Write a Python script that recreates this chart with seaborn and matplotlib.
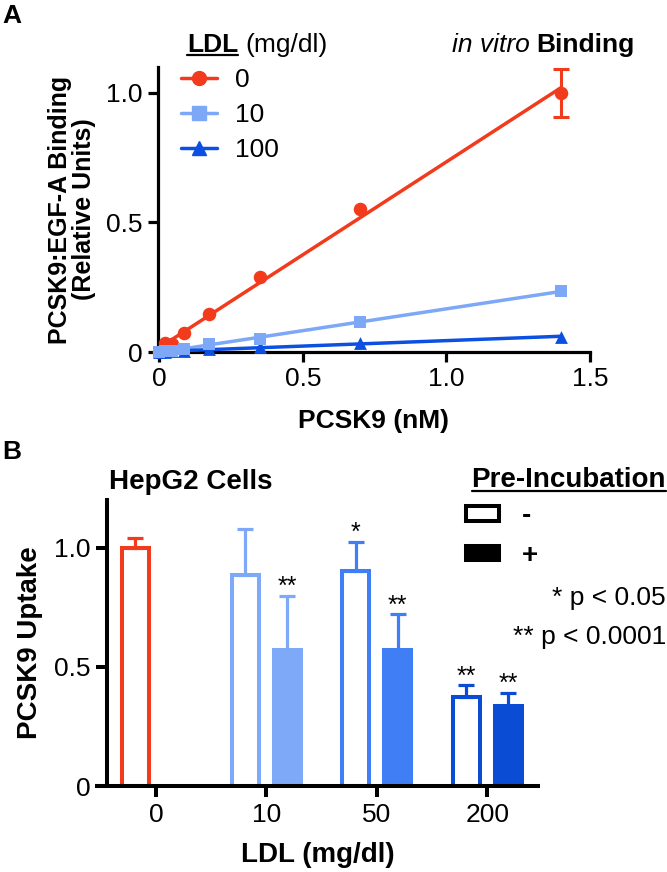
import numpy as np
import pandas as pd
import matplotlib
matplotlib.use("Agg")
import matplotlib.pyplot as plt
import seaborn as sns
from matplotlib.lines import Line2D
from matplotlib.patches import Patch

# ---- panel A: in vitro binding ----
pcsk9_nM = [0, 0.0219, 0.0438, 0.0875, 0.175, 0.35, 0.7, 1.4]
binding_ldl0 = [0.0, 0.035, 0.032, 0.072, 0.145, 0.29, 0.55, 1.0]
binding_ldl10 = [0.0, 0.003, 0.005, 0.012, 0.03, 0.052, 0.116, 0.235]
binding_ldl100 = [0.0, 0.001, 0.002, 0.005, 0.01, 0.02, 0.035, 0.058]
binding_ldl0_err_last = 0.093
ldl_levels_a = ["0", "10", "100"]

# ---- panel B: HepG2 uptake ----
ldl_b = ["0", "10", "50", "200"]
uptake_minus = [1.0, 0.885, 0.902, 0.375]
sd_minus = [0.042, 0.195, 0.123, 0.047]
uptake_plus = [np.nan, 0.569, 0.569, 0.336]
sd_plus = [np.nan, 0.228, 0.151, 0.056]
stars_minus = ["", "", "*", "**"]
stars_plus = ["", "**", "**", "**"]

RED = "#F23A1D"
LIGHT = "#7DA8F7"
DARK_A = "#0C50E2"
bar_colors = [RED, "#7EA9F8", "#3F7EF4", "#0B4CD4"]

sns.set_style("ticks")
plt.rcParams["font.family"] = ["Liberation Sans", "DejaVu Sans"]
plt.rcParams.update({"text.color": "black", "axes.labelcolor": "black",
                     "xtick.color": "black", "ytick.color": "black",
                     "axes.edgecolor": "black"})

W, H = 667, 872
fig = plt.figure(figsize=(W / 100, H / 100), dpi=100)


def fx(px):
    return px / W


def fy(py):
    return 1 - py / H


# ================= Panel A =================
axA = fig.add_axes([fx(158), fy(352), fx(590 - 158), 285 / H])
# (values, colour, marker, size, zorder) - light blue squares sit on top near 0
series = [(binding_ldl0, RED, "o", 95, 4), (binding_ldl10, LIGHT, "s", 85, 6),
          (binding_ldl100, DARK_A, "^", 85, 5)]
for yvals, col, mk, sz, z in series:
    sns.regplot(x=pcsk9_nM, y=yvals, ax=axA, ci=None, color=col, marker=mk,
                scatter_kws=dict(s=sz, linewidths=0, clip_on=False, zorder=z, alpha=1),
                line_kws=dict(lw=2.5, zorder=3))
axA.errorbar(pcsk9_nM[-1], binding_ldl0[-1], yerr=binding_ldl0_err_last,
             color=RED, lw=2.2, capsize=6, capthick=2.2, zorder=3)

axA.set_xlim(-0.004, 1.5)
axA.set_ylim(0, 1.1)
axA.set_xticks([0, 0.5, 1.0, 1.5])
axA.set_xticklabels(["0", "0.5", "1.0", "1.5"])
axA.set_yticks([0, 0.5, 1.0])
axA.set_yticklabels(["0", "0.5", "1.0"])
axA.tick_params(labelsize=19, length=7, width=2.3, pad=4)
sns.despine(ax=axA)
for s in ["left", "bottom"]:
    axA.spines[s].set_linewidth(2.3)
axA.set_xlabel("PCSK9 (nM)", fontsize=19, fontweight="bold", labelpad=13)
axA.set_ylabel("PCSK9:EGF-A Binding\n(Relative Units)", fontsize=18,
               fontweight="bold", labelpad=7, linespacing=1.05)

handlesA = [Line2D([], [], color=c, marker=m, markersize=10, lw=2.5)
            for _, c, m, _, _ in series]
fig.legend(handlesA, ldl_levels_a, loc="upper left",
           bbox_to_anchor=(fx(181), fy(68)), frameon=False, fontsize=19,
           handlelength=1.35, handletextpad=0.7, labelspacing=0.42,
           borderpad=0, borderaxespad=0)

fig.text(fx(2), fy(4), "A", fontsize=19, fontweight="bold", va="top", ha="left")
t_ldl = fig.text(fx(187), fy(45), "LDL", fontsize=19, fontweight="bold", va="center")
t_units = fig.text(fx(252), fy(45), "(mg/dl)", fontsize=19, va="center")
t_bind = fig.text(fx(634), fy(45), "Binding", fontsize=19, fontweight="bold",
                  va="center", ha="right")
t_vitro = fig.text(fx(431), fy(45), "in vitro", fontsize=19, style="italic",
                   va="center", ha="right")

# ================= Panel B =================
rows = []
for i, lv in enumerate(ldl_b):
    rows.append(dict(ldl=lv, pre="-", uptake=uptake_minus[i]))
    if not np.isnan(uptake_plus[i]):
        rows.append(dict(ldl=lv, pre="+", uptake=uptake_plus[i]))
dfB = pd.DataFrame(rows)

axB = fig.add_axes([fx(97), fy(786), fx(538 - 97), 286 / H])
sns.barplot(data=dfB, x="ldl", y="uptake", hue="pre", order=ldl_b,
            hue_order=["-", "+"], width=0.76, gap=0.355, errorbar=None,
            legend=False, ax=axB)

sd_lookup = {"-": sd_minus, "+": sd_plus}
star_lookup = {"-": stars_minus, "+": stars_plus}
mean_lookup = {"-": uptake_minus, "+": uptake_plus}
for p in axB.patches:
    cx = p.get_x() + p.get_width() / 2
    i = int(round(cx))
    pre = "-" if cx < i else "+"
    col = bar_colors[i]
    p.set_edgecolor(col)
    p.set_linewidth(2.9)
    p.set_facecolor("white" if pre == "-" else col)
    top = mean_lookup[pre][i]
    sd = sd_lookup[pre][i]
    axB.errorbar(cx, top, yerr=[[0], [sd]], color=col, lw=2.3, capsize=6,
                 capthick=2.3, zorder=3)
    if star_lookup[pre][i]:
        axB.text(cx, top + sd + 0.008, star_lookup[pre][i], ha="center",
                 va="baseline", fontsize=18)

axB.set_xlim(-0.535, 3.46)
axB.set_ylim(0, 1.2)
axB.set_yticks([0, 0.5, 1.0])
axB.set_yticklabels(["0", "0.5", "1.0"])
sns.despine(ax=axB)
axB.spines["left"].set_position(("data", -0.444))
for s in ["left", "bottom"]:
    axB.spines[s].set_linewidth(2.9)
axB.tick_params(labelsize=19, length=8, width=2.9, pad=4)
axB.set_xlabel("LDL (mg/dl)", fontsize=20, fontweight="bold", labelpad=11)
axB.set_ylabel("PCSK9 Uptake", fontsize=20, fontweight="bold", labelpad=8)

fig.text(fx(2), fy(440), "B", fontsize=19, fontweight="bold", va="top", ha="left")
fig.text(fx(109), fy(482), "HepG2 Cells", fontsize=20, fontweight="bold", va="center")
t_pre = fig.text(fx(666), fy(480), "Pre-Incubation", fontsize=20,
                 fontweight="bold", va="center", ha="right")

handlesB = [Patch(facecolor="white", edgecolor="black", lw=2.9),
            Patch(facecolor="black", edgecolor="black", lw=2.9)]
fig.legend(handlesB, ["-", "+"], loc="upper left",
           bbox_to_anchor=(fx(466), fy(503)), frameon=False,
           prop=dict(size=20, weight="bold"), handlelength=1.2,
           handleheight=0.45, handletextpad=0.8, labelspacing=0.5,
           borderpad=0, borderaxespad=0)

fig.text(fx(666), fy(598), "* p < 0.05", fontsize=19, va="center", ha="right")
fig.text(fx(666), fy(637), "** p < 0.0001", fontsize=19, va="center", ha="right")

# pack the title words together, then underline the two legend titles
fig.canvas.draw()
renderer = fig.canvas.get_renderer()
inv = fig.transFigure.inverted()
bb_ldl = t_ldl.get_window_extent(renderer).transformed(inv)
t_units.set_x(bb_ldl.x1 + fx(7))
bb_bind = t_bind.get_window_extent(renderer).transformed(inv)
t_vitro.set_x(bb_bind.x0 - fx(6))
for t in [t_ldl, t_pre]:
    bb = t.get_window_extent(renderer).transformed(inv)
    y = bb.y0 + 0.002
    fig.add_artist(Line2D([bb.x0, bb.x1], [y, y], transform=fig.transFigure,
                          color="black", lw=1.6))

fig.savefig("out.png", dpi=100)
